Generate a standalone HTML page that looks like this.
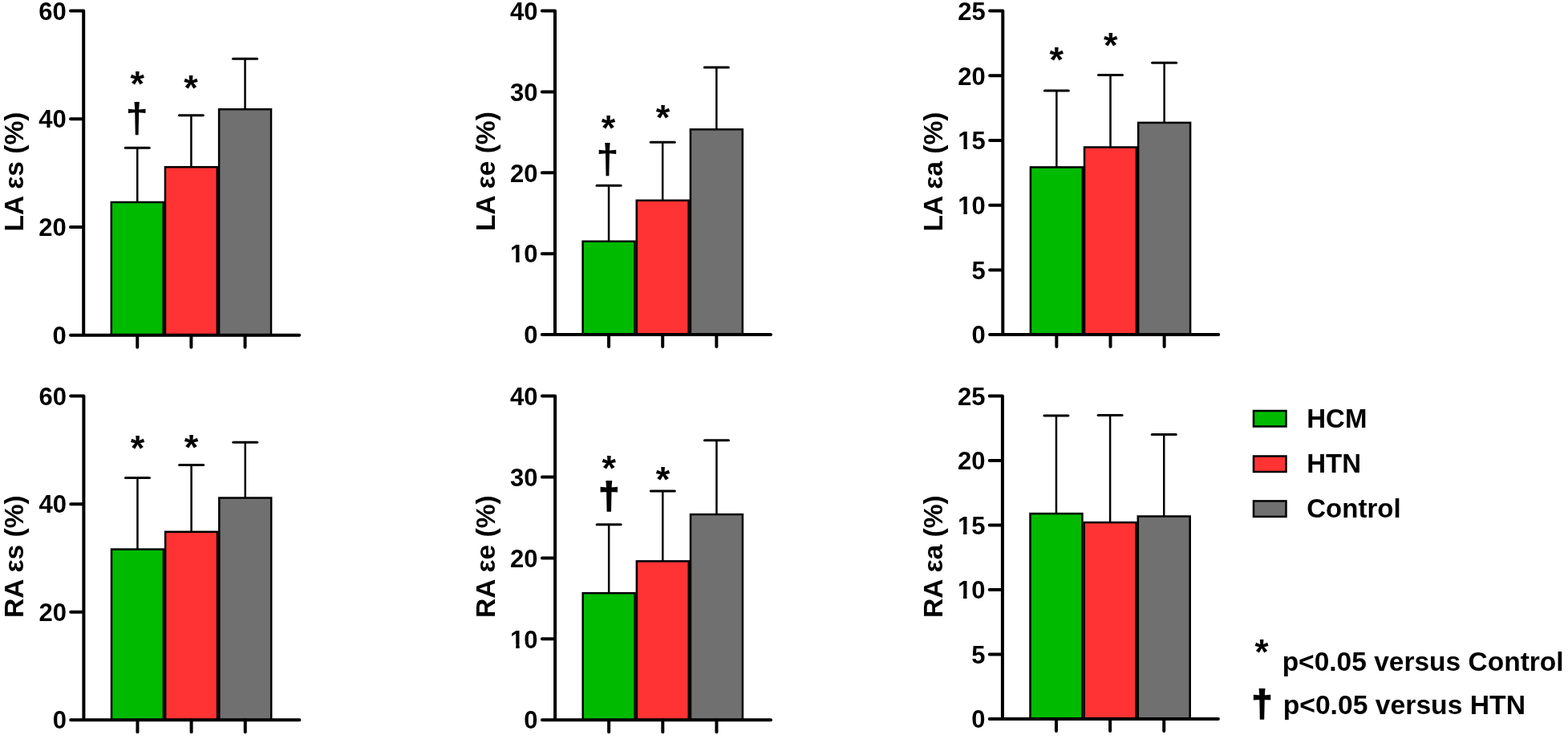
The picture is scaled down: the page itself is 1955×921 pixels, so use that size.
<!DOCTYPE html>
<html><head><meta charset="utf-8"><title>LA and RA strain by group</title>
<style>html,body{margin:0;padding:0;background:#fff;overflow:hidden}svg{display:block;filter:blur(0.4px)}
svg path,svg rect{stroke:#000;fill-opacity:1}svg path{fill:none}</style>
</head><body>
<svg width="1955" height="921" viewBox="0 0 1955 921" font-family="'Liberation Sans', Arial, sans-serif" font-weight="bold" fill="#000">
<path d="M171.25 252V184.2" stroke-width="2.5"/>
<path d="M156.25 184.2H186.25" stroke-width="3.0" stroke-linecap="round"/>
<rect x="138.8" y="252" width="64.9" height="165.7" fill="#00ba00" stroke-width="2.5"/>
<path d="M171.25 417.7V432.7" stroke-width="4.0" stroke-linecap="round"/>
<path d="M238.4 208.2V143.8" stroke-width="2.5"/>
<path d="M223.4 143.8H253.4" stroke-width="3.0" stroke-linecap="round"/>
<rect x="205.95" y="208.2" width="64.9" height="209.5" fill="#ff3333" stroke-width="2.5"/>
<path d="M238.4 417.7V432.7" stroke-width="4.0" stroke-linecap="round"/>
<path d="M305.55 136.2V73.2" stroke-width="2.5"/>
<path d="M290.55 73.2H320.55" stroke-width="3.0" stroke-linecap="round"/>
<rect x="273.1" y="136.2" width="64.9" height="281.5" fill="#707070" stroke-width="2.5"/>
<path d="M305.55 417.7V432.7" stroke-width="4.0" stroke-linecap="round"/>
<path d="M88 13.5H104.2V417.7M88 282.97H104.2M88 148.23H104.2M88 417.7H373.2" stroke-width="4.0" stroke-linecap="round" stroke-linejoin="round"/>
<text x="82.7" y="428.95" font-size="31" text-anchor="end">0</text>
<text x="82.7" y="294.22" font-size="31" text-anchor="end">20</text>
<text x="82.7" y="159.48" font-size="31" text-anchor="end">40</text>
<text x="82.7" y="24.75" font-size="31" text-anchor="end">60</text>
<text transform="translate(29.3 214) rotate(-90)" font-size="33.6" text-anchor="middle">LA εs (%)</text>
<text x="171.2" y="120.22" font-size="45" text-anchor="middle">*</text>
<text x="170.6" y="164.59" font-size="51" text-anchor="middle">†</text>
<text x="238" y="125.32" font-size="45" text-anchor="middle">*</text>
<path d="M759.05 300.8V231.2" stroke-width="2.5"/>
<path d="M744.05 231.2H774.05" stroke-width="3.0" stroke-linecap="round"/>
<rect x="726.6" y="300.8" width="64.9" height="116.2" fill="#00ba00" stroke-width="2.5"/>
<path d="M759.05 417V432" stroke-width="4.0" stroke-linecap="round"/>
<path d="M826.2 249.8V177.2" stroke-width="2.5"/>
<path d="M811.2 177.2H841.2" stroke-width="3.0" stroke-linecap="round"/>
<rect x="793.75" y="249.8" width="64.9" height="167.2" fill="#ff3333" stroke-width="2.5"/>
<path d="M826.2 417V432" stroke-width="4.0" stroke-linecap="round"/>
<path d="M893.35 161.3V84" stroke-width="2.5"/>
<path d="M878.35 84H908.35" stroke-width="3.0" stroke-linecap="round"/>
<rect x="860.9" y="161.3" width="64.9" height="255.7" fill="#707070" stroke-width="2.5"/>
<path d="M893.35 417V432" stroke-width="4.0" stroke-linecap="round"/>
<path d="M675.8 13.6H692V417M675.8 316.15H692M675.8 215.3H692M675.8 114.45H692M675.8 417H961" stroke-width="4.0" stroke-linecap="round" stroke-linejoin="round"/>
<text x="670.5" y="428.25" font-size="31" text-anchor="end">0</text>
<text x="670.5" y="327.4" font-size="31" text-anchor="end">10</text>
<text x="670.5" y="226.55" font-size="31" text-anchor="end">20</text>
<text x="670.5" y="125.7" font-size="31" text-anchor="end">30</text>
<text x="670.5" y="24.85" font-size="31" text-anchor="end">40</text>
<text transform="translate(617 213.6) rotate(-90)" font-size="33.6" text-anchor="middle">LA εe (%)</text>
<text x="758.6" y="174.82" font-size="45" text-anchor="middle">*</text>
<text x="757.4" y="216.09" font-size="51" text-anchor="middle">†</text>
<text x="826.5" y="162.42" font-size="45" text-anchor="middle">*</text>
<path d="M1317.35 208.4V112.9" stroke-width="2.5"/>
<path d="M1302.35 112.9H1332.35" stroke-width="3.0" stroke-linecap="round"/>
<rect x="1284.9" y="208.4" width="64.9" height="208.7" fill="#00ba00" stroke-width="2.5"/>
<path d="M1317.35 417.1V432.1" stroke-width="4.0" stroke-linecap="round"/>
<path d="M1384.5 183.5V93.4" stroke-width="2.5"/>
<path d="M1369.5 93.4H1399.5" stroke-width="3.0" stroke-linecap="round"/>
<rect x="1352.05" y="183.5" width="64.9" height="233.6" fill="#ff3333" stroke-width="2.5"/>
<path d="M1384.5 417.1V432.1" stroke-width="4.0" stroke-linecap="round"/>
<path d="M1451.65 152.9V78.3" stroke-width="2.5"/>
<path d="M1436.65 78.3H1466.65" stroke-width="3.0" stroke-linecap="round"/>
<rect x="1419.2" y="152.9" width="64.9" height="264.2" fill="#707070" stroke-width="2.5"/>
<path d="M1451.65 417.1V432.1" stroke-width="4.0" stroke-linecap="round"/>
<path d="M1234.1 13.6H1250.3V417.1M1234.1 336.4H1250.3M1234.1 255.7H1250.3M1234.1 175H1250.3M1234.1 94.3H1250.3M1234.1 417.1H1519.3" stroke-width="4.0" stroke-linecap="round" stroke-linejoin="round"/>
<text x="1228.8" y="428.35" font-size="31" text-anchor="end">0</text>
<text x="1228.8" y="347.65" font-size="31" text-anchor="end">5</text>
<text x="1228.8" y="266.95" font-size="31" text-anchor="end">10</text>
<text x="1228.8" y="186.25" font-size="31" text-anchor="end">15</text>
<text x="1228.8" y="105.55" font-size="31" text-anchor="end">20</text>
<text x="1228.8" y="24.85" font-size="31" text-anchor="end">25</text>
<text transform="translate(1174.9 214) rotate(-90)" font-size="33.6" text-anchor="middle">LA εa (%)</text>
<text x="1317.3" y="90.12" font-size="45" text-anchor="middle">*</text>
<text x="1384.7" y="71.72" font-size="45" text-anchor="middle">*</text>
<path d="M171.45 684.6V595.6" stroke-width="2.5"/>
<path d="M156.45 595.6H186.45" stroke-width="3.0" stroke-linecap="round"/>
<rect x="139" y="684.6" width="64.9" height="212.6" fill="#00ba00" stroke-width="2.5"/>
<path d="M171.45 897.2V912.2" stroke-width="4.0" stroke-linecap="round"/>
<path d="M238.6 662.8V579.5" stroke-width="2.5"/>
<path d="M223.6 579.5H253.6" stroke-width="3.0" stroke-linecap="round"/>
<rect x="206.15" y="662.8" width="64.9" height="234.4" fill="#ff3333" stroke-width="2.5"/>
<path d="M238.6 897.2V912.2" stroke-width="4.0" stroke-linecap="round"/>
<path d="M305.75 620.5V551.2" stroke-width="2.5"/>
<path d="M290.75 551.2H320.75" stroke-width="3.0" stroke-linecap="round"/>
<rect x="273.3" y="620.5" width="64.9" height="276.7" fill="#707070" stroke-width="2.5"/>
<path d="M305.75 897.2V912.2" stroke-width="4.0" stroke-linecap="round"/>
<path d="M88.2 493.6H104.4V897.2M88.2 762.67H104.4M88.2 628.13H104.4M88.2 897.2H373.4" stroke-width="4.0" stroke-linecap="round" stroke-linejoin="round"/>
<text x="82.9" y="908.45" font-size="31" text-anchor="end">0</text>
<text x="82.9" y="773.92" font-size="31" text-anchor="end">20</text>
<text x="82.9" y="639.38" font-size="31" text-anchor="end">40</text>
<text x="82.9" y="504.85" font-size="31" text-anchor="end">60</text>
<text transform="translate(29.3 693.6) rotate(-90)" font-size="33.6" text-anchor="middle">RA εs (%)</text>
<text x="171.5" y="574.33" font-size="45" text-anchor="middle">*</text>
<text x="238.5" y="572.52" font-size="45" text-anchor="middle">*</text>
<path d="M759.15 739.2V653.8" stroke-width="2.5"/>
<path d="M744.15 653.8H774.15" stroke-width="3.0" stroke-linecap="round"/>
<rect x="726.7" y="739.2" width="64.9" height="158" fill="#00ba00" stroke-width="2.5"/>
<path d="M759.15 897.2V912.2" stroke-width="4.0" stroke-linecap="round"/>
<path d="M826.3 699.4V612" stroke-width="2.5"/>
<path d="M811.3 612H841.3" stroke-width="3.0" stroke-linecap="round"/>
<rect x="793.85" y="699.4" width="64.9" height="197.8" fill="#ff3333" stroke-width="2.5"/>
<path d="M826.3 897.2V912.2" stroke-width="4.0" stroke-linecap="round"/>
<path d="M893.45 641.1V548.8" stroke-width="2.5"/>
<path d="M878.45 548.8H908.45" stroke-width="3.0" stroke-linecap="round"/>
<rect x="861" y="641.1" width="64.9" height="256.1" fill="#707070" stroke-width="2.5"/>
<path d="M893.45 897.2V912.2" stroke-width="4.0" stroke-linecap="round"/>
<path d="M675.9 493.6H692.1V897.2M675.9 796.3H692.1M675.9 695.4H692.1M675.9 594.5H692.1M675.9 897.2H961.1" stroke-width="4.0" stroke-linecap="round" stroke-linejoin="round"/>
<text x="670.6" y="908.45" font-size="31" text-anchor="end">0</text>
<text x="670.6" y="807.55" font-size="31" text-anchor="end">10</text>
<text x="670.6" y="706.65" font-size="31" text-anchor="end">20</text>
<text x="670.6" y="605.75" font-size="31" text-anchor="end">30</text>
<text x="670.6" y="504.85" font-size="31" text-anchor="end">40</text>
<text transform="translate(617 693.6) rotate(-90)" font-size="33.6" text-anchor="middle">RA εe (%)</text>
<text x="759.2" y="598.93" font-size="45" text-anchor="middle">*</text>
<text x="759.2" y="634.01" font-size="46" text-anchor="middle" stroke="#000" stroke-width="2">†</text>
<text x="826.6" y="613.43" font-size="45" text-anchor="middle">*</text>
<path d="M1316.95 640.1V517.9" stroke-width="2.5"/>
<path d="M1301.95 517.9H1331.95" stroke-width="3.0" stroke-linecap="round"/>
<rect x="1284.5" y="640.1" width="64.9" height="255.9" fill="#00ba00" stroke-width="2.5"/>
<path d="M1316.95 896V911" stroke-width="4.0" stroke-linecap="round"/>
<path d="M1384.1 651.1V517.5" stroke-width="2.5"/>
<path d="M1369.1 517.5H1399.1" stroke-width="3.0" stroke-linecap="round"/>
<rect x="1351.65" y="651.1" width="64.9" height="244.9" fill="#ff3333" stroke-width="2.5"/>
<path d="M1384.1 896V911" stroke-width="4.0" stroke-linecap="round"/>
<path d="M1451.25 643.5V541.4" stroke-width="2.5"/>
<path d="M1436.25 541.4H1466.25" stroke-width="3.0" stroke-linecap="round"/>
<rect x="1418.8" y="643.5" width="64.9" height="252.5" fill="#707070" stroke-width="2.5"/>
<path d="M1451.25 896V911" stroke-width="4.0" stroke-linecap="round"/>
<path d="M1233.7 493.6H1249.9V896M1233.7 815.52H1249.9M1233.7 735.04H1249.9M1233.7 654.56H1249.9M1233.7 574.08H1249.9M1233.7 896H1518.9" stroke-width="4.0" stroke-linecap="round" stroke-linejoin="round"/>
<text x="1228.4" y="907.25" font-size="31" text-anchor="end">0</text>
<text x="1228.4" y="826.77" font-size="31" text-anchor="end">5</text>
<text x="1228.4" y="746.29" font-size="31" text-anchor="end">10</text>
<text x="1228.4" y="665.81" font-size="31" text-anchor="end">15</text>
<text x="1228.4" y="585.33" font-size="31" text-anchor="end">20</text>
<text x="1228.4" y="504.85" font-size="31" text-anchor="end">25</text>
<text transform="translate(1174.9 693.6) rotate(-90)" font-size="33.6" text-anchor="middle">RA εa (%)</text>
<rect x="1563" y="512" width="40.5" height="19.5" fill="#00ba00" stroke-width="2.5"/>
<text x="1629.29" y="532.6" font-size="33" stroke="none">HCM</text>
<rect x="1563" y="568.5" width="40.5" height="19.5" fill="#ff3333" stroke-width="2.5"/>
<text x="1629.29" y="589.1" font-size="33" stroke="none">HTN</text>
<rect x="1563" y="624.4" width="40.5" height="19.5" fill="#707070" stroke-width="2.5"/>
<text x="1629.29" y="645" font-size="33" stroke="none">Control</text>
<text x="1573" y="828.42" font-size="44" text-anchor="middle">*</text>
<text x="1598.65" y="836" font-size="33.5">p&lt;0.05 versus Control</text>
<text x="1573.6" y="892.81" font-size="46" text-anchor="middle" stroke="#000" stroke-width="2">†</text>
<text x="1599.64" y="890" font-size="33.7">p&lt;0.05 versus HTN</text>
<rect x="637" y="323" width="6.15" height="6" style="stroke:none;fill:#fff"/>
<rect x="647.61" y="323" width="5.39" height="6" style="stroke:none;fill:#fff"/>
<rect x="1195" y="262" width="6.45" height="6" style="stroke:none;fill:#fff"/>
<rect x="1205.91" y="262" width="6.09" height="6" style="stroke:none;fill:#fff"/>
<rect x="1195" y="182" width="6.45" height="6" style="stroke:none;fill:#fff"/>
<rect x="1205.91" y="182" width="6.09" height="6" style="stroke:none;fill:#fff"/>
<rect x="637" y="803" width="6.25" height="6" style="stroke:none;fill:#fff"/>
<rect x="647.71" y="803" width="5.29" height="6" style="stroke:none;fill:#fff"/>
<rect x="1194" y="742" width="7.05" height="6" style="stroke:none;fill:#fff"/>
<rect x="1205.51" y="742" width="5.49" height="6" style="stroke:none;fill:#fff"/>
<rect x="1194" y="661" width="7.05" height="6" style="stroke:none;fill:#fff"/>
<rect x="1205.51" y="661" width="5.49" height="6" style="stroke:none;fill:#fff"/>
</svg>
</body></html>
